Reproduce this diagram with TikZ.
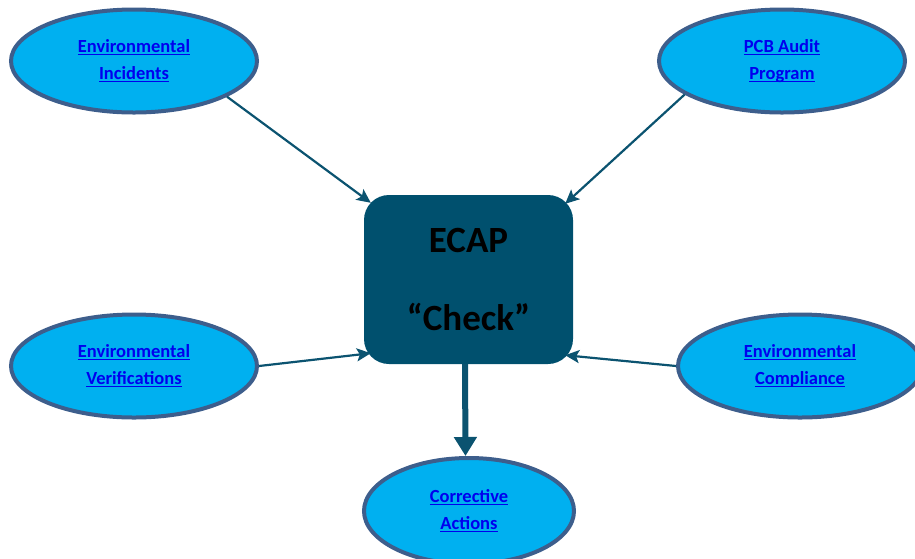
\documentclass[tikz,border=0pt]{standalone}
\usepackage{fontspec}
\setmainfont{Carlito}
\usetikzlibrary{shapes.geometric,arrows.meta,calc}
\definecolor{ellfill}{HTML}{00B0F0}
\definecolor{ellborder}{HTML}{3D5E8C}
\definecolor{boxfill}{HTML}{00506E}
\definecolor{arrowcol}{HTML}{0B5370}
\definecolor{linkblue}{HTML}{0000EE}
\newcommand\lnk[1]{\setbox0\hbox{#1}\rlap{\rule[-2.8pt]{\wd0}{1.4pt}}\box0}
\begin{document}
\begin{tikzpicture}[x=1pt,y=-1pt,
  oval/.style={ellipse, draw=ellborder, line width=4pt, fill=ellfill,
    minimum width=246pt, minimum height=103pt, inner sep=0pt, align=center,
    font=\bfseries\fontsize{18.5}{22}\selectfont, text=linkblue},
  hub/.style={rectangle, rounded corners=25pt, fill=boxfill, minimum width=209pt,
    minimum height=169pt, inner sep=0pt, align=center,
    font=\bfseries\fontsize{37}{44}\selectfont, text=black},
  feed/.style={draw=arrowcol, line width=2.2pt, -{Stealth[length=14pt,width=13pt,inset=3pt]}},
  down/.style={draw=arrowcol, line width=6pt, -{Triangle[length=19pt,width=22pt]}}]
\useasboundingbox (0,0) rectangle (915,558);
\clip (0,0) rectangle (915,558);
\node[hub] (box) at (468.5,279.5) {ECAP\\[34pt]“Check”};
\node[oval] (ei) at (134,61) {\lnk{Environmental}\\[5pt]\lnk{Incidents}};
\node[oval] (pcb) at (782,61) {\lnk{PCB Audit}\\[5pt]\lnk{Program}};
\node[oval] (ev) at (134,366) {\lnk{Environmental}\\[5pt]\lnk{Verifications}};
\node[oval, minimum width=244pt] (ec) at (800,366) {\lnk{Environmental}\\[5pt]\lnk{Compliance}};
\node[oval, minimum width=210pt, minimum height=106pt] (ca) at (469,511) {\lnk{Corrective}\\[5pt]\lnk{Actions}};
\draw[feed] (ei.339) -- ($(box.north west)+(7,8)$);
\draw[feed] (pcb.199) -- ($(box.north east)+(-8,9)$);
\draw[feed] (ev.east) -- ($(box.south west)+(7,-11)$);
\draw[feed] (ec.west) -- ($(box.south east)+(-8,-9)$);
\draw[down] ($(box.south)+(-3.5,0)$) -- ($(ca.north)+(-3.5,0)$);
\end{tikzpicture}
\end{document}
